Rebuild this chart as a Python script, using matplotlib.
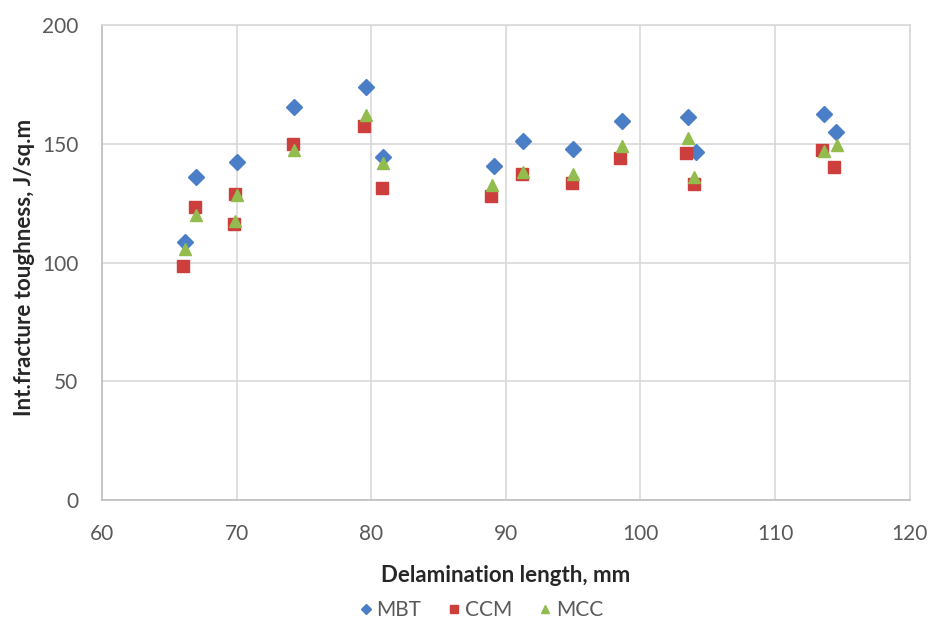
import matplotlib
matplotlib.use("Agg")
import matplotlib.pyplot as plt

# Data
mbt_x = [66.2, 67.0, 70.0, 74.3, 79.6, 80.9, 89.1, 91.3, 95.0, 98.6, 103.5, 104.1, 113.6, 114.5]
mbt_y = [108.5, 136.0, 142.2, 165.3, 173.8, 144.3, 140.8, 151.3, 147.9, 159.8, 161.1, 146.6, 162.5, 155.1]

ccm_x = [66.0, 66.9, 69.9, 69.8, 74.2, 79.5, 80.8, 88.9, 91.2, 94.9, 98.5, 103.4, 104.0, 113.5, 114.4]
ccm_y = [98.5, 123.4, 128.8, 116.2, 150.1, 157.5, 131.2, 128.0, 137.3, 133.6, 143.9, 146.0, 133.0, 147.3, 140.2]

mcc_x = [66.2, 67.0, 70.0, 69.9, 74.3, 79.6, 80.9, 89.0, 91.3, 95.0, 98.6, 103.5, 104.0, 113.6, 114.6]
mcc_y = [105.5, 120.2, 128.6, 117.4, 147.2, 162.2, 142.0, 132.6, 138.0, 137.3, 149.0, 152.4, 135.9, 147.0, 149.6]

x_ticks = [60, 70, 80, 90, 100, 110, 120]
y_ticks = [0, 50, 100, 150, 200]

series_names = ["MBT", "CCM", "MCC"]
colors = ["#4A7EC6", "#CD3F3C", "#93BC4E"]

plt.rcParams['font.family'] = ['Lato', 'DejaVu Sans']

fig = plt.figure(figsize=(9.32, 6.21), dpi=100)
ax = fig.add_axes([0.1094, 0.1948, 0.8667, 0.7649])

ax.plot(mbt_x, mbt_y, linestyle='none', marker='D', ms=8, color=colors[0], label=series_names[0], zorder=3)
ax.plot(ccm_x, ccm_y, linestyle='none', marker='s', ms=9, color=colors[1], label=series_names[1], zorder=4)
ax.plot(mcc_x, mcc_y, linestyle='none', marker='^', ms=9, color=colors[2], label=series_names[2], zorder=5)

ax.set_xlim(60, 120)
ax.set_ylim(0, 200)
ax.set_xticks(x_ticks)
ax.set_yticks(y_ticks)
ax.grid(True, color='#d9d9d9', linewidth=1.2, zorder=0)
ax.set_axisbelow(True)
for s in ax.spines.values():
    s.set_color('#d9d9d9')
    s.set_linewidth(1.2)
ax.spines['left'].set_color('#bfbfbf')
ax.spines['bottom'].set_color('#bfbfbf')
ax.tick_params(axis='both', length=0, labelsize=15, labelcolor='#595959', pad=17)

ax.set_xlabel("Delamination length, mm", fontsize=16, fontweight='bold', color='#262626', va='center')
ax.xaxis.set_label_coords(0.5, -0.158)
ax.set_ylabel("Int.fracture toughness, J/sq.m", fontsize=16, fontweight='bold', color='#262626', va='center', ha='center')
ax.yaxis.set_label_coords(-0.0965, 0.49)

leg = fig.legend(loc='center', bbox_to_anchor=(0.514, 0.0177), ncol=3, frameon=False,
                 fontsize=15, handletextpad=0.0, columnspacing=1.1, handlelength=1.0, markerscale=0.7,
                 borderpad=0.0)
for t in leg.get_texts():
    t.set_color('#595959')

fig.savefig("out.png", dpi=100)
